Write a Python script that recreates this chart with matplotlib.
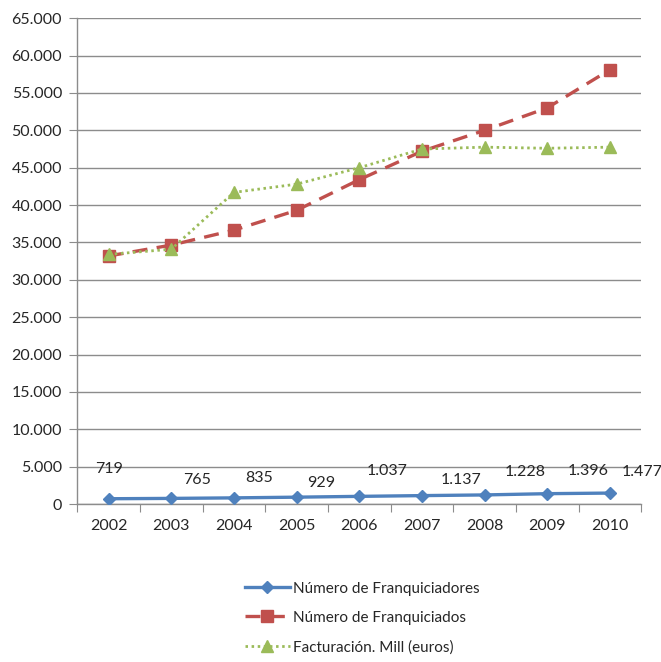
import matplotlib
matplotlib.use("Agg")
import matplotlib.pyplot as plt
from matplotlib.ticker import FuncFormatter, FixedLocator, NullFormatter

years = ["2002", "2003", "2004", "2005", "2006", "2007", "2008", "2009", "2010"]
franquiciadores = [719, 765, 835, 929, 1037, 1137, 1228, 1396, 1477]
franquiciados = [33200, 34650, 36650, 39300, 43400, 47200, 50000, 53000, 58100]
facturacion = [33400, 34100, 41700, 42800, 45000, 47500, 47750, 47600, 47750]

series_names = ["Número de Franquiciadores", "Número de Franquiciados",
                "Facturación. Mill (euros)"]

# pixel offsets of the value labels on the franquiciadores line
label_offsets = [(0, 30), (26, 18), (25, 19.5), (25, 14), (28, 25),
                 (39, 16), (41, 23), (41, 23), (32, 21)]

plt.rcParams["font.family"] = ["Lato", "DejaVu Sans"]
plt.rcParams["font.size"] = 11

BLUE = "#4F81BD"
RED = "#C0504D"
GREEN = "#9BBB59"
GRID = "#8C8C8C"
TXT = "#262626"


def es_thousands(v, pos=None):
    return f"{int(round(v)):,}".replace(",", ".")


fig = plt.figure(figsize=(6.61, 6.62), dpi=100)
ax = fig.add_axes([0.117, 0.2385, 0.853, 0.734])

x = list(range(len(years)))

ax.plot(x, franquiciadores, color=BLUE, lw=2.4, marker="D", ms=6.5,
        mfc=BLUE, mec=BLUE, label=series_names[0], zorder=3)
ax.plot(x, franquiciados, color=RED, lw=2.4, ls=(0, (4.5, 2.8)), marker="s",
        ms=8.5, mfc=RED, mec=RED, label=series_names[1], zorder=3)
ax.plot(x, facturacion, color=GREEN, lw=2.0, ls=(0, (0.9, 1.3)), marker="^",
        ms=9, mfc=GREEN, mec=GREEN, label=series_names[2], zorder=4)

for xi, v, (dx, dy) in zip(x, franquiciadores, label_offsets):
    ax.annotate(es_thousands(v), (xi, v), xytext=(dx, dy),
                textcoords="offset pixels", ha="center", va="center",
                fontsize=11.5, color=TXT)

ax.set_xlim(-0.5, len(years) - 0.5)
ax.set_ylim(0, 65000)
ax.yaxis.set_major_locator(FixedLocator(range(0, 65001, 5000)))
ax.yaxis.set_major_formatter(FuncFormatter(es_thousands))

ax.xaxis.set_major_locator(FixedLocator([i - 0.5 for i in range(len(years) + 1)]))
ax.xaxis.set_major_formatter(NullFormatter())
ax.xaxis.set_minor_locator(FixedLocator(x))
ax.set_xticklabels(years, minor=True)
ax.tick_params(axis="x", which="major", length=6, color=GRID, direction="out")
ax.tick_params(axis="x", which="minor", length=0, pad=11, labelsize=11.5,
               labelcolor=TXT)
ax.tick_params(axis="y", length=6, color=GRID, pad=5, labelsize=11.5,
               labelcolor=TXT)

ax.grid(axis="y", color=GRID, lw=1.0)
ax.set_axisbelow(True)
for side in ("top", "right"):
    ax.spines[side].set_visible(False)
for side in ("left", "bottom"):
    ax.spines[side].set_color(GRID)
    ax.spines[side].set_linewidth(1.0)

leg = fig.legend(loc="center", bbox_to_anchor=(0.548, 0.0665), frameon=False,
                 handlelength=2.9, handletextpad=0.2, labelspacing=1.0,
                 fontsize=11, numpoints=1)
for t in leg.get_texts():
    t.set_color(TXT)

fig.savefig("out.png", dpi=100)
